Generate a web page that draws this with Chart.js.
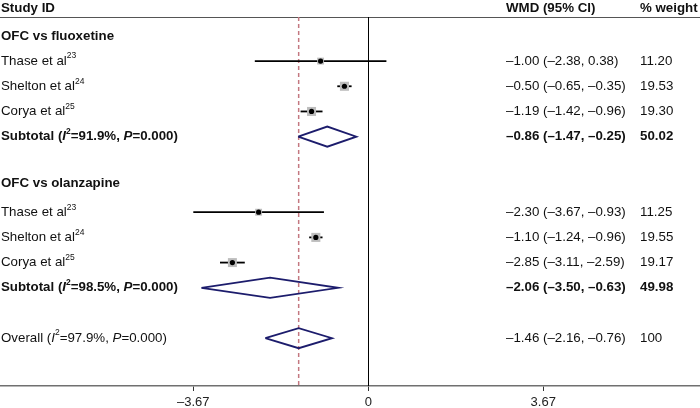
<!DOCTYPE html>
<html><head><meta charset="utf-8">
<script src="https://cdn.jsdelivr.net/npm/chart.js@4/dist/chart.umd.min.js"></script>
<style>html,body{margin:0;padding:0;background:#fff}#wrap{width:700px;height:408px;position:relative}</style>
</head><body><div id="wrap"><canvas id="c" width="700" height="408"></canvas></div>
<script>
// ---- data ----
const studyLabels = ['Thase et al','Shelton et al','Corya et al','Thase et al','Shelton et al','Corya et al'];
const studyRefs = ['23','24','25','23','24','25'];
const studyGroup = [0,0,0,1,1,1];
const studyWMD = [-1.00,-0.50,-1.19,-2.30,-1.10,-2.85];
const studyLow = [-2.38,-0.65,-1.42,-3.67,-1.24,-3.11];
const studyHigh = [0.38,-0.35,-0.96,-0.93,-0.96,-2.59];
const studyWeight = [11.20,19.53,19.30,11.25,19.55,19.17];
const groupNames = ['OFC vs fluoxetine','OFC vs olanzapine'];
const groupI2 = ['91.9','98.5'];
const groupP = ['0.000','0.000'];
const groupWMD = [-0.86,-2.06];
const groupLow = [-1.47,-3.50];
const groupHigh = [-0.25,-0.63];
const groupWeight = ['50.02','49.98'];
const overallI2 = '97.9', overallP = '0.000';
const overallWMD = -1.46, overallLow = -2.16, overallHigh = -0.76, overallWeight = '100';
const xTicks = [-3.67, 0, 3.67];

// ---- row layout (row index per item) ----
const groupRow = g => g * 6 - (g ? 0.15 : 0);
const studyRow = i => studyGroup[i] * 6 + 1 + studyGroup.slice(0, i).filter(g => g === studyGroup[i]).length;
const subRow = g => g * 6 + 4;
const overallRow = 12;
const headerRow = -1.1;

const FONT = '"Liberation Sans", Arial, Helvetica, sans-serif';
const TXT = '#111';
const NAVY = '#1c1c6c';
const DIA_H = 0.4;
const FS = 13.3;

const fmt = v => (v < 0 ? '\u2013' : '') + Math.abs(v).toFixed(2);
const fmtCI = (e, l, h) => fmt(e) + ' (' + fmt(l) + ', ' + fmt(h) + ')';

// ---- datasets ----
const datasets = [];
studyWMD.forEach((v, i) => {
  datasets.push({type:'scatter', showLine:true, data:[{x:studyLow[i], y:studyRow(i)}, {x:studyHigh[i], y:studyRow(i)}],
    borderColor:'#000', borderWidth:1.8, pointRadius:0, tension:0, order:3});
});
datasets.push({type:'scatter', data: studyWMD.map((v, i) => ({x:v, y:studyRow(i)})),
  pointStyle:'rect', backgroundColor:'#bdbdbd', borderWidth:0,
  pointRadius: studyWeight.map(w => 2.05 * Math.sqrt(w) / Math.SQRT2), order:2});
datasets.push({type:'scatter', data: studyWMD.map((v, i) => ({x:v, y:studyRow(i)})),
  pointStyle:'circle', backgroundColor:'#000', borderWidth:0, pointRadius:2.6, order:1});
function diamond(e, l, h, r) {
  return {type:'scatter', showLine:true, tension:0, fill:false, pointRadius:0,
    borderColor:NAVY, borderWidth:1.8,
    data:[{x:l, y:r}, {x:e, y:r - DIA_H}, {x:h, y:r}, {x:e, y:r + DIA_H}, {x:l, y:r}], order:1};
}
groupWMD.forEach((v, g) => datasets.push(diamond(v, groupLow[g], groupHigh[g], subRow(g))));
datasets.push(diamond(overallWMD, overallLow, overallHigh, overallRow));

// ---- text helpers ----
function drawRuns(ctx, x, y, runs) {
  ctx.textBaseline = 'middle';
  ctx.textAlign = 'left';
  runs.forEach(r => {
    const size = r.sup ? 8.5 : FS;
    ctx.font = (r.i ? 'italic ' : '') + (r.b ? 'bold ' : '') + size + 'px ' + FONT;
    ctx.fillStyle = TXT;
    ctx.fillText(r.t, x, y - (r.sup ? 5 : 0));
    x += ctx.measureText(r.t).width;
  });
}

const linesPlugin = {
  id:'lines',
  beforeDatasetsDraw(chart) {
    const {ctx, chartArea:a, scales:{x}} = chart;
    ctx.save();
    ctx.strokeStyle = '#555'; ctx.lineWidth = 1;
    ctx.beginPath(); ctx.moveTo(0, a.top + 0.5); ctx.lineTo(chart.width, a.top + 0.5); ctx.stroke();
    const x0 = Math.round(x.getPixelForValue(0)) + 0.5;
    ctx.strokeStyle = '#000'; ctx.lineWidth = 1;
    ctx.beginPath(); ctx.moveTo(x0, a.top); ctx.lineTo(x0, a.bottom); ctx.stroke();
    const xo = x.getPixelForValue(overallWMD);
    ctx.strokeStyle = '#c47880'; ctx.lineWidth = 1.5; ctx.setLineDash([4, 3]);
    ctx.beginPath(); ctx.moveTo(xo, a.top); ctx.lineTo(xo, a.bottom); ctx.stroke();
    ctx.restore();
  }
};

const textPlugin = {
  id:'texts',
  afterDraw(chart) {
    const {ctx, scales:{y}} = chart;
    const cx1 = 1, cx2 = 506, cx3 = 640;
    ctx.save();
    const hy = y.getPixelForValue(headerRow);
    drawRuns(ctx, cx1, hy, [{t:'Study ID', b:true}]);
    drawRuns(ctx, cx2, hy, [{t:'WMD (95% CI)', b:true}]);
    drawRuns(ctx, cx3, hy, [{t:'% weight', b:true}]);
    groupNames.forEach((n, g) => {
      drawRuns(ctx, cx1, y.getPixelForValue(groupRow(g)), [{t:n, b:true}]);
      const sy = y.getPixelForValue(subRow(g));
      drawRuns(ctx, cx1, sy, [{t:'Subtotal (', b:true}, {t:'I', b:true, i:true}, {t:'2', b:true, sup:true},
        {t:'=' + groupI2[g] + '%, ', b:true}, {t:'P', b:true, i:true}, {t:'=' + groupP[g] + ')', b:true}]);
      drawRuns(ctx, cx2, sy, [{t:fmtCI(groupWMD[g], groupLow[g], groupHigh[g]), b:true}]);
      drawRuns(ctx, cx3, sy, [{t:groupWeight[g], b:true}]);
    });
    studyLabels.forEach((n, i) => {
      const ry = y.getPixelForValue(studyRow(i));
      drawRuns(ctx, cx1, ry, [{t:n}, {t:studyRefs[i], sup:true}]);
      drawRuns(ctx, cx2, ry, [{t:fmtCI(studyWMD[i], studyLow[i], studyHigh[i])}]);
      drawRuns(ctx, cx3, ry, [{t:studyWeight[i].toFixed(2)}]);
    });
    const oy = y.getPixelForValue(overallRow);
    drawRuns(ctx, cx1, oy, [{t:'Overall ('}, {t:'I', i:true}, {t:'2', sup:true}, {t:'=' + overallI2 + '%, '},
      {t:'P', i:true}, {t:'=' + overallP + ')'}]);
    drawRuns(ctx, cx2, oy, [{t:fmtCI(overallWMD, overallLow, overallHigh)}]);
    drawRuns(ctx, cx3, oy, [{t:overallWeight}]);
    ctx.restore();
  }
};

new Chart(document.getElementById('c'), {
  type:'scatter',
  data:{datasets},
  options:{
    responsive:false, animation:false, events:[],
    layout:{autoPadding:false, padding:{top:17, left:0, right:0, bottom:0}},
    plugins:{legend:{display:false}, tooltip:{enabled:false}},
    scales:{
      x:{type:'linear', min:-7.724, max:6.957,
        afterBuildTicks:s => { s.ticks = xTicks.map(v => ({value:v})); },
        afterFit:s => { s.height = 22; s.paddingLeft = 0; s.paddingRight = 0; },
        border:{display:true, color:'#707070', width:1.5},
        grid:{drawOnChartArea:false, drawTicks:true, tickLength:5, color:'#333', lineWidth:1},
        ticks:{font:{family:FONT, size:13}, color:'#222', padding:4, maxRotation:0, autoSkip:false,
          callback:v => v === 0 ? '0' : fmt(v)}
      },
      y:{type:'linear', min:-0.75, max:13.9, reverse:true, display:false}
    }
  },
  plugins:[linesPlugin, textPlugin]
});
</script></body></html>
